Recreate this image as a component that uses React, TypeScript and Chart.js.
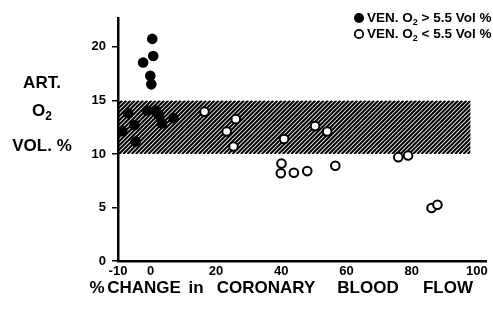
import React, { useEffect, useRef } from "react";
import { Chart, registerables } from "chart.js";

Chart.register(...registerables);

// ---- data ----
const highVenousX = [0.5, 0.8, -2.3, -0.1, 0.2, -6.9, -8.7, -4.9, -4.6, -1.0, 1.5, 2.5, 3.5, 7.0];
const highVenousY = [20.75, 19.15, 18.55, 17.3, 16.5, 13.8, 12.15, 12.7, 11.15, 14.05, 14.05, 13.65, 12.85, 13.35];

const lowVenousX = [16.5, 26.1, 23.3, 25.4, 40.9, 40.1, 39.9, 43.9, 48.0, 50.4, 54.1, 56.6, 75.9, 78.9, 86.1, 87.9];
const lowVenousY = [13.95, 13.25, 12.1, 10.7, 11.4, 9.1, 8.2, 8.25, 8.4, 12.6, 12.1, 8.9, 9.7, 9.85, 4.95, 5.25];

const xTickValues = [-10, 0, 20, 40, 60, 80, 100];
const yTickValues = [0, 5, 10, 15, 20];
const xRange = [-10, 103];
const yRange = [0, 22.7];

const bandX = [-10, 98];
const bandY = [10, 15];

const legendLabels = ["VEN. O₂ > 5.5 Vol %", "VEN. O₂ < 5.5 Vol %"];
const yTitleLines = ["ART.", "O₂", "VOL. %"];
const xTitleWords = ["%", "CHANGE", "in", "CORONARY", "BLOOD", "FLOW"];

const FAMILY = "'Liberation Sans', Arial, sans-serif";

function drawSubText(
  ctx: CanvasRenderingContext2D,
  text: string,
  x: number,
  y: number,
  size: number,
  align: "left" | "center"
) {
  const main = `bold ${size}px ${FAMILY}`;
  const sub = `bold ${Math.round(size * 0.68)}px ${FAMILY}`;
  const parts: { t: string; s: boolean }[] = [];
  text.split("₂").forEach((p, i, arr) => {
    if (p) parts.push({ t: p, s: false });
    if (i < arr.length - 1) parts.push({ t: "2", s: true });
  });
  let total = 0;
  const widths = parts.map((p) => {
    ctx.font = p.s ? sub : main;
    const w = ctx.measureText(p.t).width;
    total += w;
    return w;
  });
  let cx = align === "center" ? x - total / 2 : x;
  ctx.textAlign = "left";
  ctx.textBaseline = "middle";
  parts.forEach((p, i) => {
    ctx.font = p.s ? sub : main;
    ctx.fillText(p.t, cx, p.s ? y + size * 0.32 : y);
    cx += widths[i];
  });
}

const hatchPlugin = {
  id: "hatchBand",
  beforeDatasetsDraw(chart: any) {
    const { ctx, scales } = chart;
    const xs = scales.x;
    const ys = scales.y;
    const left = xs.getPixelForValue(bandX[0]);
    const right = xs.getPixelForValue(bandX[1]);
    const top = ys.getPixelForValue(bandY[1]);
    const bottom = ys.getPixelForValue(bandY[0]);
    const h = bottom - top;
    ctx.save();
    ctx.beginPath();
    ctx.rect(left, top, right - left, h);
    ctx.clip();
    ctx.beginPath();
    ctx.strokeStyle = "#000";
    ctx.lineWidth = 2.1;
    const step = 4.2;
    for (let sx = left - h - step; sx < right + step; sx += step) {
      ctx.moveTo(sx, bottom);
      ctx.lineTo(sx + h, top);
    }
    ctx.stroke();
    ctx.restore();
  },
};

const textPlugin = {
  id: "textDecor",
  afterDraw(chart: any) {
    const ctx: CanvasRenderingContext2D = chart.ctx;
    ctx.save();
    ctx.fillStyle = "#000";
    // y title (three horizontal lines)
    const yPos = [83, 111, 146];
    yTitleLines.forEach((line, i) => drawSubText(ctx, line, 42, yPos[i], 17, "center"));
    // x title words
    const centers = [97, 144, 196, 266, 368, 448];
    ctx.font = `bold 17px ${FAMILY}`;
    ctx.textAlign = "center";
    ctx.textBaseline = "middle";
    xTitleWords.forEach((w, i) => ctx.fillText(w, centers[i], 288));
    // legend
    const ly = [18, 34];
    legendLabels.forEach((label, i) => {
      ctx.beginPath();
      ctx.arc(359, ly[i], i === 0 ? 5 : 4.2, 0, Math.PI * 2);
      if (i === 0) {
        ctx.fillStyle = "#000";
        ctx.fill();
      } else {
        ctx.fillStyle = "#fff";
        ctx.fill();
        ctx.lineWidth = 1.8;
        ctx.strokeStyle = "#000";
        ctx.stroke();
      }
      ctx.fillStyle = "#000";
      drawSubText(ctx, label, 367, ly[i], 13.5, "left");
    });
    ctx.restore();
  },
};

export default function App() {
  const ref = useRef<HTMLCanvasElement | null>(null);

  useEffect(() => {
    if (!ref.current) return;
    const chart = new Chart(ref.current, {
      type: "scatter",
      data: {
        datasets: [
          {
            label: legendLabels[0],
            data: highVenousX.map((x, i) => ({ x, y: highVenousY[i] })),
            pointRadius: 5.3,
            pointBackgroundColor: "#000",
            pointBorderColor: "#000",
            pointBorderWidth: 0,
          },
          {
            label: legendLabels[1],
            data: lowVenousX.map((x, i) => ({ x, y: lowVenousY[i] })),
            pointRadius: 4.3,
            pointBackgroundColor: "#fff",
            pointBorderColor: "#000",
            pointBorderWidth: 2,
          },
        ],
      },
      options: {
        animation: false,
        responsive: false,
        devicePixelRatio: 1,
        layout: { padding: { left: 0, top: 18, right: 5, bottom: 0 } },
        plugins: { legend: { display: false }, tooltip: { enabled: false } },
        scales: {
          x: {
            type: "linear",
            min: xRange[0],
            max: xRange[1],
            afterBuildTicks: (s: any) => {
              s.ticks = xTickValues.map((v) => ({ value: v }));
            },
            afterFit: (s: any) => {
              s.height = 48;
            },
            grid: { display: false, drawTicks: false },
            border: { display: true, color: "#000", width: 2.5 },
            ticks: {
              color: "#000",
              padding: 3,
              maxRotation: 0,
              autoSkip: false,
              font: { family: FAMILY, size: 13, weight: "bold" },
              callback: (v: any) => String(v),
            },
          },
          y: {
            type: "linear",
            min: yRange[0],
            max: yRange[1],
            afterBuildTicks: (s: any) => {
              s.ticks = yTickValues.map((v) => ({ value: v }));
            },
            afterFit: (s: any) => {
              s.width = 118;
            },
            grid: {
              display: true,
              drawOnChartArea: false,
              drawTicks: true,
              tickLength: 6,
              color: "#000",
              lineWidth: 1.5,
            },
            border: { display: true, color: "#000", width: 2.5 },
            ticks: {
              color: "#000",
              padding: 6,
              autoSkip: false,
              font: { family: FAMILY, size: 13, weight: "bold" },
              callback: (v: any) => String(v),
            },
          },
        },
      },
      plugins: [hatchPlugin, textPlugin],
    } as any);
    return () => chart.destroy();
  }, []);

  return (
    <div style={{ position: "absolute", left: 0, top: 0, width: 493, height: 309, background: "#fff" }}>
      <canvas ref={ref} width={493} height={309} />
    </div>
  );
}
